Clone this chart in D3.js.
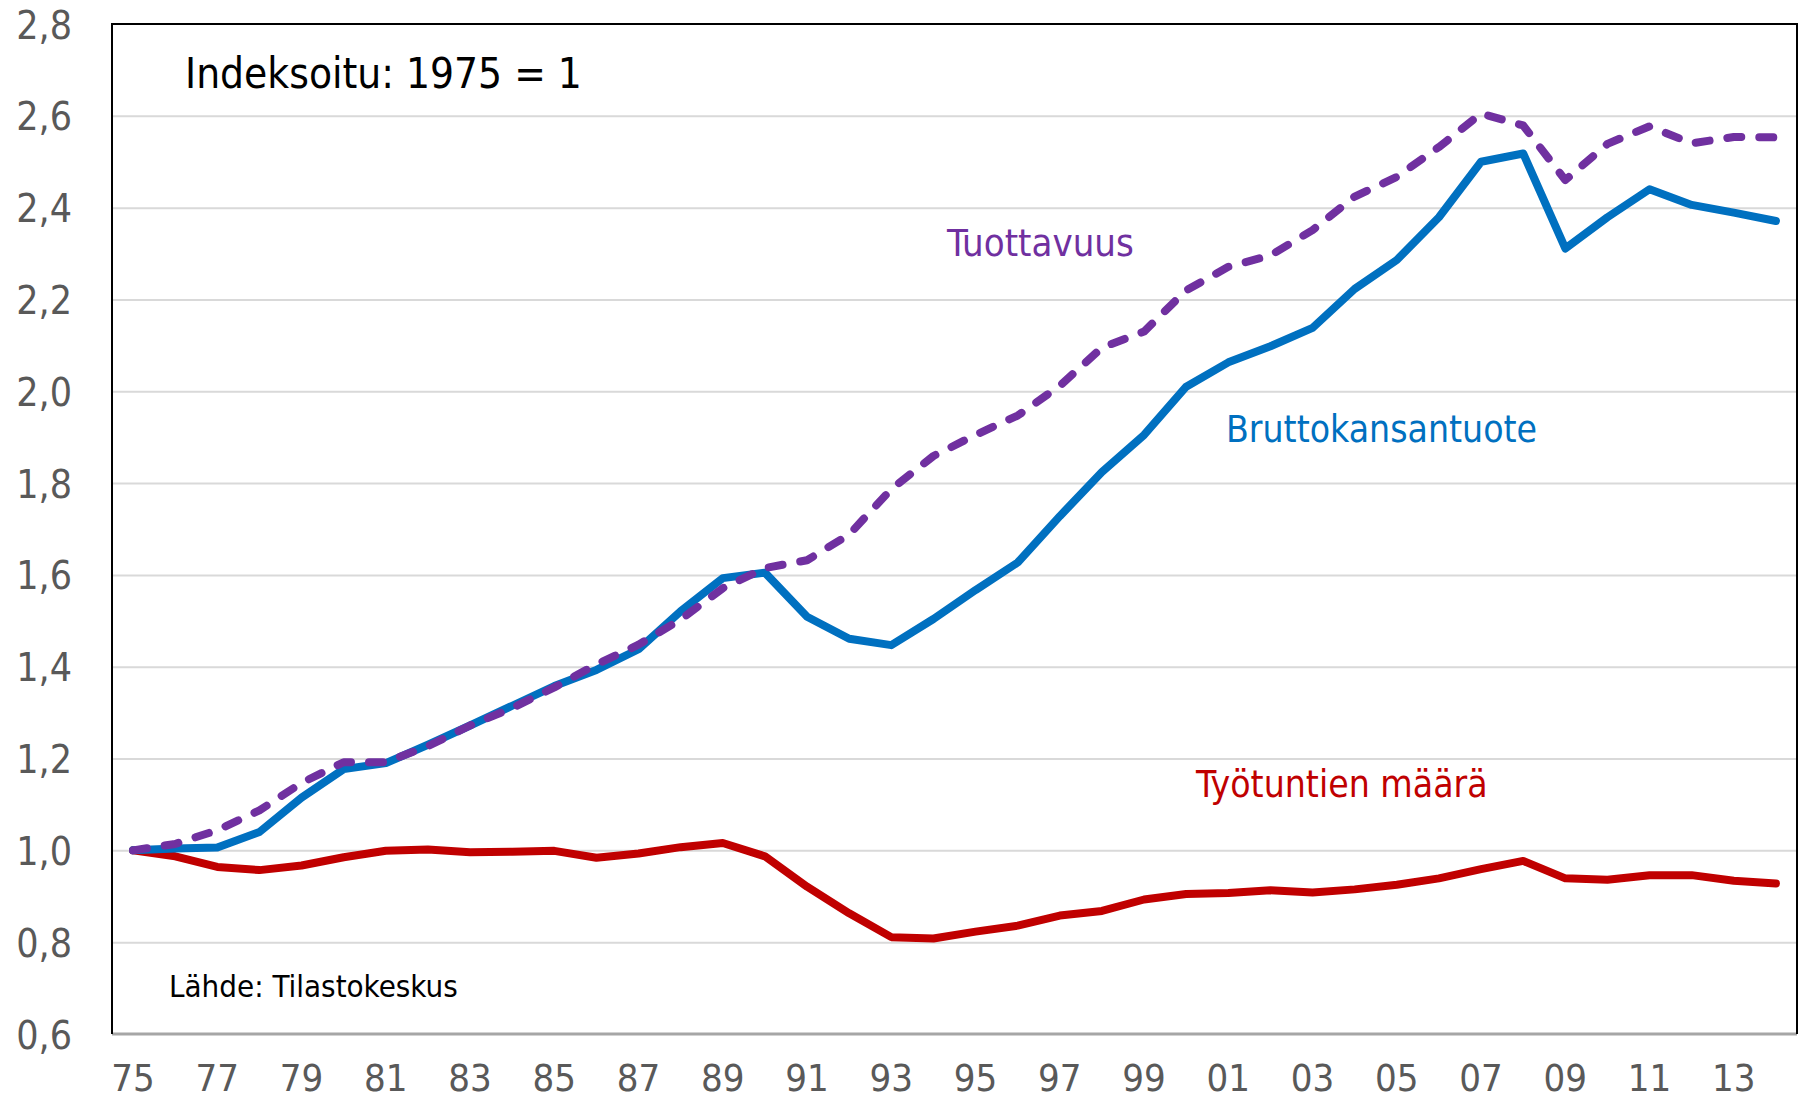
<!DOCTYPE html>
<html>
<head>
<meta charset="utf-8">
<script src="https://cdn.jsdelivr.net/npm/d3@7/dist/d3.min.js"></script>
<style>
  body { margin: 0; background: #fff; }
  text { font-family: "DejaVu Sans Condensed", "DejaVu Sans", sans-serif; font-stretch: condensed; }
</style>
</head>
<body>
<div id="chart"></div>
<script>
// data: indexed, 1975 = 1
var years = d3.range(1975, 2015);

var bkt = [1.000, 1.004, 1.006, 1.040, 1.115, 1.177, 1.190, 1.230, 1.272, 1.315,
           1.358, 1.393, 1.438, 1.521, 1.593, 1.605, 1.509, 1.461, 1.447, 1.504,
           1.567, 1.627, 1.728, 1.824, 1.905, 2.010, 2.063, 2.098, 2.138, 2.223,
           2.286, 2.379, 2.500, 2.518, 2.311, 2.379, 2.440, 2.406, 2.389, 2.371];

var tuottavuus = [1.000, 1.014, 1.044, 1.087, 1.147, 1.192, 1.192, 1.227, 1.272, 1.310,
                  1.355, 1.405, 1.448, 1.503, 1.571, 1.615, 1.632, 1.688, 1.787, 1.859,
                  1.905, 1.947, 2.012, 2.095, 2.130, 2.220, 2.271, 2.296, 2.351, 2.424,
                  2.467, 2.532, 2.605, 2.579, 2.460, 2.539, 2.577, 2.540, 2.554, 2.553];

var tyotunnit = [1.000, 0.987, 0.964, 0.957, 0.967, 0.985, 0.999, 1.002, 0.996, 0.997,
                 0.999, 0.984, 0.993, 1.007, 1.016, 0.987, 0.921, 0.863, 0.811, 0.808,
                 0.823, 0.836, 0.858, 0.868, 0.893, 0.905, 0.907, 0.913, 0.908, 0.915,
                 0.925, 0.939, 0.959, 0.977, 0.939, 0.936, 0.946, 0.946, 0.934, 0.928];

var yTicks = [0.6, 0.8, 1.0, 1.2, 1.4, 1.6, 1.8, 2.0, 2.2, 2.4, 2.6, 2.8];
var xTickYears = years.filter(function(d) { return (d - 1975) % 2 === 0 && d < 2014; });

// svg params
var svgWidth = 1804;
var svgHeight = 1101;
var margin = { top: 24, right: 7, bottom: 67, left: 112 };
var width = svgWidth - margin.left - margin.right;
var height = svgHeight - margin.top - margin.bottom;

var svg = d3.select("#chart")
  .append("svg")
  .attr("width", svgWidth)
  .attr("height", svgHeight);

svg.append("rect")
  .attr("width", svgWidth)
  .attr("height", svgHeight)
  .attr("fill", "#fff");

var chartGroup = svg.append("g")
  .attr("transform", `translate(${margin.left}, ${margin.top})`);

// scales
var xScale = d3.scaleBand()
  .domain(years)
  .range([0, width]);

var yScale = d3.scaleLinear()
  .domain([0.6, 2.8])
  .range([height, 0]);

var xPos = function(d, i) { return xScale(years[i]) + xScale.bandwidth() / 2; };

// gridlines
var grid = chartGroup.append("g")
  .call(d3.axisLeft(yScale).tickValues(yTicks.slice(1, -1)).tickSize(-width).tickFormat(""));
grid.select(".domain").remove();
grid.selectAll("line").attr("stroke", "#d9d9d9").attr("stroke-width", 2);

// y axis labels
var yAxis = chartGroup.append("g")
  .call(d3.axisLeft(yScale)
    .tickValues(yTicks)
    .tickSize(0)
    .tickPadding(40)
    .tickFormat(function(d) { return d3.format(".1f")(d).replace(".", ","); }));
yAxis.select(".domain").remove();
yAxis.selectAll("text")
  .attr("fill", "#595959")
  .style("font-size", "39px")
  .attr("dy", "0.36em");

// x axis labels (kept just inside the bottom edge)
var xAxis = chartGroup.append("g")
  .attr("transform", `translate(0, ${height})`)
  .call(d3.axisBottom(xScale)
    .tickValues(xTickYears)
    .tickSize(0)
    .tickPadding(30)
    .tickFormat(function(d) { return String(d).slice(2); }));
xAxis.select(".domain").remove();
xAxis.selectAll("text")
  .attr("fill", "#595959")
  .style("font-size", "38px");

// plot border
chartGroup.append("line")
  .attr("x1", 0).attr("x2", width)
  .attr("y1", height).attr("y2", height)
  .attr("stroke", "#a6a6a6").attr("stroke-width", 3);
chartGroup.append("path")
  .attr("d", `M0,${height}V0H${width}V${height}`)
  .attr("fill", "none")
  .attr("stroke", "#000")
  .attr("stroke-width", 2);

// lines
var lineGen = d3.line()
  .x(xPos)
  .y(function(d) { return yScale(d); });

chartGroup.append("path")
  .datum(tyotunnit)
  .attr("d", lineGen)
  .attr("fill", "none")
  .attr("stroke", "#c00000")
  .attr("stroke-width", 8)
  .attr("stroke-linejoin", "round")
  .attr("stroke-linecap", "round");

chartGroup.append("path")
  .datum(bkt)
  .attr("d", lineGen)
  .attr("fill", "none")
  .attr("stroke", "#0070c0")
  .attr("stroke-width", 8)
  .attr("stroke-linejoin", "round")
  .attr("stroke-linecap", "round");

chartGroup.append("path")
  .datum(tuottavuus)
  .attr("d", lineGen)
  .attr("fill", "none")
  .attr("stroke", "#7030a0")
  .attr("stroke-width", 8)
  .attr("stroke-dasharray", "14,18")
  .attr("stroke-linejoin", "round")
  .attr("stroke-linecap", "round");

// annotations
svg.append("text")
  .attr("x", 185).attr("y", 88)
  .style("font-size", "42px")
  .attr("fill", "#000")
  .text("Indeksoitu: 1975 = 1");

svg.append("text")
  .attr("x", 169).attr("y", 997)
  .style("font-size", "31px")
  .attr("fill", "#000")
  .text("Lähde: Tilastokeskus");

svg.append("text")
  .attr("x", 947).attr("y", 256)
  .style("font-size", "38px")
  .attr("fill", "#7030a0")
  .text("Tuottavuus");

svg.append("text")
  .attr("x", 1226).attr("y", 442)
  .style("font-size", "37px")
  .attr("fill", "#0070c0")
  .text("Bruttokansantuote");

svg.append("text")
  .attr("x", 1196).attr("y", 797)
  .style("font-size", "37px")
  .attr("fill", "#c00000")
  .text("Työtuntien määrä");
</script>
</body>
</html>
